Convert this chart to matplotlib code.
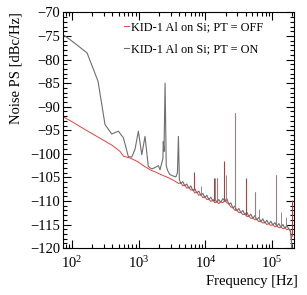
import matplotlib
matplotlib.use("Agg")
import matplotlib.pyplot as plt
from matplotlib.ticker import LogLocator, MultipleLocator, NullFormatter

plt.rcParams['font.family'] = ['Liberation Serif', 'DejaVu Serif']
plt.rcParams['mathtext.fontset'] = 'custom'
plt.rcParams['mathtext.rm'] = 'Liberation Serif'
plt.rcParams['mathtext.it'] = 'Liberation Serif:italic'

# ---------------- data ----------------
label_off = "KID-1 Al on Si; PT = OFF"
label_on = "KID-1 Al on Si; PT = ON"

# PT = OFF (red), low-frequency part
off_f_lo = [73, 100, 150, 263, 400, 524, 590, 740, 945, 1040, 1200, 1480, 1800, 2230, 2700, 3300]
off_v_lo = [-92.1, -93.2, -94.7, -96.7, -98.2, -99.5, -100.5, -100.9, -101.6, -102.0, -102.6,
            -103.4, -103.9, -104.5, -105.0, -105.6]

# PT = ON (grey), low-frequency part
on_f_lo = [73, 100, 168, 245, 312, 394, 494, 588, 698, 785, 880, 986, 1110, 1240, 1390, 1480,
           1580, 1750, 1970, 2080, 2300, 2330, 2390, 2480, 2580, 2700, 2930, 3260, 3600, 3800,
           3930, 4060]
on_v_lo = [-74.7, -76.1, -78.6, -84.6, -93.8, -95.8, -95.2, -96.6, -100.6, -100.7, -99.0, -95.2,
           -100.2, -96.3, -102.7, -103.0, -103.2, -102.9, -102.5, -103.4, -101.0, -97.4, -99.5,
           -85.0, -102.5, -103.5, -104.4, -104.7, -104.9, -104.0, -96.3, -105.5]

# high-frequency part (shared frequency grid)
hi_f = [3981, 4266, 4571, 4898, 5248, 5623, 6026, 6457, 6918, 7413, 7943, 8511, 9120, 9772,
        10471, 11220, 12023, 12882, 13804, 14791, 15849, 16982, 18197, 19498, 20893, 22387,
        23988, 25704, 27542, 29512, 31623, 33884, 36308, 38905, 41687, 44668, 47863, 51286,
        54954, 58884, 63096, 67608, 72444, 77625, 83176, 89125, 95499, 102329, 109648, 117490,
        125893, 134896, 144544, 154882, 165959, 177828, 186209, 192752, 199526]
off_v_hi = [-106.3, -106.1, -106.8, -106.6, -107.3, -107.1, -107.7, -107.6, -108.3, -108.1,
            -108.8, -108.6, -109.3, -109.1, -109.7, -109.6, -110.1, -109.8, -110.4, -110.1,
            -110.6, -110.1, -110.4, -109.9, -110.4, -110.6, -111.3, -111.4, -112.0, -111.9,
            -112.5, -112.4, -112.9, -112.8, -113.3, -113.2, -113.7, -113.6, -114.0, -113.9,
            -114.4, -114.3, -114.7, -114.5, -115.0, -114.8, -115.2, -115.0, -115.5, -115.3,
            -115.7, -115.5, -115.9, -115.7, -116.1, -115.9, -116.4, -117.8, -121.0]
on_v_hi = [-105.4, -106.3, -105.9, -106.8, -106.4, -107.3, -106.8, -107.8, -107.4, -108.3,
           -107.9, -108.8, -108.4, -109.3, -108.8, -109.7, -109.2, -110.0, -109.5, -110.3,
           -109.7, -110.3, -109.5, -110.0, -109.5, -110.7, -110.4, -111.5, -111.1, -112.1,
           -111.6, -112.5, -112.0, -112.9, -112.4, -113.3, -112.8, -113.7, -113.1, -114.0,
           -113.5, -114.4, -113.8, -114.7, -114.1, -114.9, -114.3, -115.1, -114.6, -115.4,
           -114.8, -115.6, -115.0, -115.8, -115.2, -116.0, -116.1, -117.5, -121.0]

# narrow spectral lines (frequency, base, peak)
off_spike_f = [6820, 13600, 14700, 19200, 27300, 40000, 55000, 113000, 195000]
off_spike_lo = [-107.6, -110.0, -110.2, -110.0, -111.7, -112.9, -113.7, -115.2, -117.5]
off_spike_hi = [-103.8, -105.2, -105.2, -101.5, -91.3, -105.2, -108.0, -104.5, -109.8]

on_spike_f = [8500, 13700, 14800, 20100, 27400, 55300, 63000, 113500, 134000, 160000]
on_spike_lo = [-108.5, -109.9, -110.0, -110.0, -111.5, -113.7, -114.0, -115.2, -115.4, -115.6]
on_spike_hi = [-106.8, -105.2, -105.2, -104.5, -91.3, -108.2, -111.7, -104.5, -112.3, -113.5]

# ---------------- plot ----------------
RED = "#e8413c"
GREY = "#6e6e6e"

fig = plt.figure(figsize=(3.07, 2.95), dpi=100)
ax = fig.add_axes([0.205, 0.159, 0.753, 0.799])

off_f = off_f_lo + hi_f
off_v = off_v_lo + off_v_hi
on_f = on_f_lo + hi_f[1:]
on_v = on_v_lo + on_v_hi[1:]

ax.plot(off_f, off_v, color=RED, lw=0.7, label=label_off)
ax.plot(on_f, on_v, color=GREY, lw=0.8, label=label_on)
ax.vlines(off_spike_f, off_spike_lo, off_spike_hi, color="#a8403c", lw=0.8)
ax.vlines(on_spike_f, on_spike_lo, on_spike_hi, color="#8a8a8a", lw=0.7)

ax.set_xscale('log')
ax.set_xlim(73, 2.13e5)
ax.set_ylim(-120, -70)

ax.yaxis.set_major_locator(MultipleLocator(5))
ax.yaxis.set_minor_locator(MultipleLocator(1))
ax.xaxis.set_major_locator(LogLocator(base=10))
ax.xaxis.set_minor_locator(LogLocator(base=10, subs=range(2, 10)))
ax.xaxis.set_minor_formatter(NullFormatter())

ax.tick_params(which='both', direction='in', top=True, right=True, labelsize=10.5, width=0.8)
ax.tick_params(which='major', length=6)
ax.tick_params(which='minor', length=3)
ax.tick_params(axis='y', pad=2)
ax.tick_params(axis='x', pad=5)
for s in ax.spines.values():
    s.set_linewidth(0.8)

ax.set_ylabel("Noise PS [dBc/Hz]", fontsize=10.5, loc='top', labelpad=5)
ax.set_xlabel("Frequency [Hz]", fontsize=10.5, loc='right', labelpad=3)
ax.xaxis.label.set_x(1.015)

leg = ax.legend(loc='upper left', bbox_to_anchor=(0.404, 0.928), bbox_transform=fig.transFigure,
                frameon=False, fontsize=8.8, handlelength=0.4, handletextpad=0.2,
                labelspacing=0.8, borderpad=0, borderaxespad=0)

fig.savefig("out.png", dpi=100)
